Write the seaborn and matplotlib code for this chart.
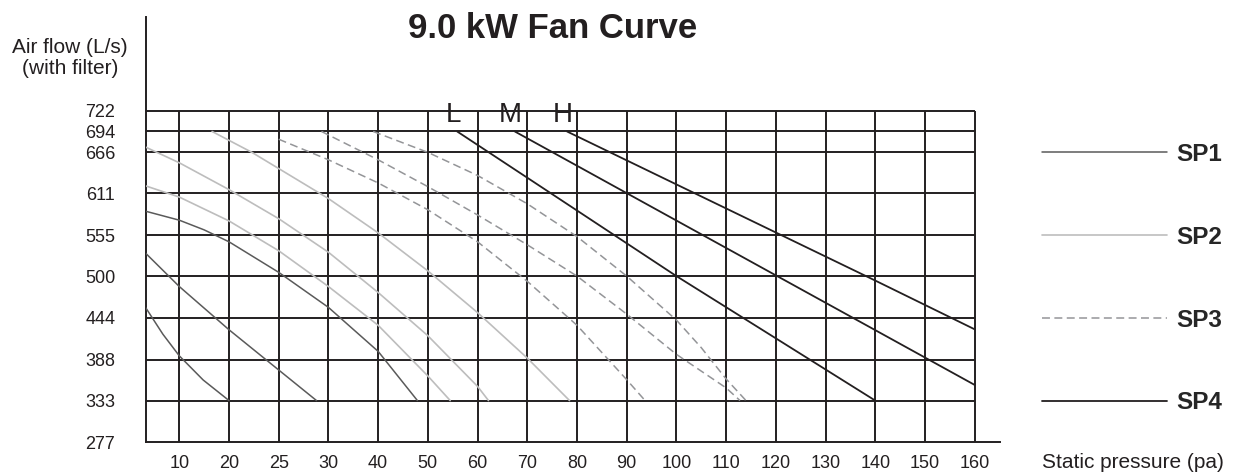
import numpy as np
import pandas as pd
import seaborn as sns
import matplotlib.pyplot as plt

# Axis ticks (the pressure axis is spaced one grid column per label, not per pa)
PRESSURE_TICKS = [10, 20, 25, 30, 40, 50, 60, 70, 80, 90, 100, 110, 120, 130, 140, 150, 160]
FLOW_TICKS = [277, 333, 388, 444, 500, 555, 611, 666, 694, 722]

# SP1 (dark grey)
SP1_L_PA = [3.24, 6.7, 10, 14.8, 20]
SP1_L_FLOW = [457.6, 422, 393, 360.6, 333]
SP1_M_PA = [3.24, 10, 20, 25, 28.8]
SP1_M_FLOW = [530.6, 486, 428, 374, 333]
SP1_H_PA = [3.24, 10, 15, 20, 25, 30, 40, 47.9]
SP1_H_FLOW = [587, 575, 562, 546, 505, 458, 399, 333]

# SP2 (light grey)
SP2_L_PA = [3.24, 10, 20, 25, 30, 40, 50, 54.5]
SP2_L_FLOW = [621, 606, 574, 534, 486, 434, 366, 333]
SP2_M_PA = [3.24, 10, 20, 25, 30, 40, 50, 60, 62.2]
SP2_M_FLOW = [673, 652, 616, 577, 532, 478, 420, 352, 333]
SP2_H_PA = [16.6, 22.3, 30, 40, 50, 60, 70, 78.5]
SP2_H_FLOW = [694, 666, 604, 558, 507, 451, 390, 333]

# SP3 (dashed)
SP3_L_PA = [25, 30, 40, 50, 60, 70, 80, 90, 93.7]
SP3_L_FLOW = [683.6, 656, 625, 589, 546, 493, 434, 361, 333]
SP3_M_PA = [29.3, 40, 50, 60, 70, 80, 90, 100, 110, 112.8]
SP3_M_FLOW = [694, 656, 620, 582, 542, 500, 449, 395, 350, 333]
SP3_H_PA = [39, 50, 60, 70, 80, 90, 100, 105, 110, 114]
SP3_H_FLOW = [694, 666, 635, 597, 553, 500, 441, 404, 362, 333]

# SP4 (black)
SP4_L_PA = [55.9, 100, 140]
SP4_L_FLOW = [694, 500, 333]
SP4_M_PA = [67.5, 120, 160]
SP4_M_FLOW = [694, 501, 354]
SP4_H_PA = [78, 100, 140, 160]
SP4_H_FLOW = [694, 623, 494, 428.6]

INK = "#231f20"
COLORS = {"SP1": "#5a5a5a", "SP2": "#bdbdbd", "SP3": "#949598", "SP4": INK}
WIDTHS = {"SP1": 1.1, "SP2": 1.2, "SP3": 1.1, "SP4": 1.3}
DASHES = {"SP1": "", "SP2": "", "SP3": (5.2, 2.9), "SP4": ""}

curves = {
    ("SP1", "L"): (SP1_L_PA, SP1_L_FLOW),
    ("SP1", "M"): (SP1_M_PA, SP1_M_FLOW),
    ("SP1", "H"): (SP1_H_PA, SP1_H_FLOW),
    ("SP2", "L"): (SP2_L_PA, SP2_L_FLOW),
    ("SP2", "M"): (SP2_M_PA, SP2_M_FLOW),
    ("SP2", "H"): (SP2_H_PA, SP2_H_FLOW),
    ("SP3", "L"): (SP3_L_PA, SP3_L_FLOW),
    ("SP3", "M"): (SP3_M_PA, SP3_M_FLOW),
    ("SP3", "H"): (SP3_H_PA, SP3_H_FLOW),
    ("SP4", "L"): (SP4_L_PA, SP4_L_FLOW),
    ("SP4", "M"): (SP4_M_PA, SP4_M_FLOW),
    ("SP4", "H"): (SP4_H_PA, SP4_H_FLOW),
}
rows = []
for (series, speed), (pa, flow) in curves.items():
    rows += [{"series": series, "speed": speed, "pa": p, "flow": f} for p, f in zip(pa, flow)]
df = pd.DataFrame(rows)

# column mapping for the uneven pressure labels
PA_KNOTS = [0] + PRESSURE_TICKS + [170]
COL_KNOTS = list(range(-1, len(PRESSURE_TICKS) + 1))


def to_col(x):
    return np.interp(x, PA_KNOTS, COL_KNOTS)


def from_col(c):
    return np.interp(c, COL_KNOTS, PA_KNOTS)


sns.set_style("white")
plt.rcParams["font.family"] = ["Liberation Sans", "DejaVu Sans"]

W, H = 1238, 472
fig = plt.figure(figsize=(W / 100, H / 100), dpi=100)
ax = fig.add_axes([145.7 / W, 29.7 / H, (1000 - 145.7) / W, (442.3 - 16.7) / H])

sns.lineplot(data=df, x="pa", y="flow", hue="series", size="series", style="series",
             units="speed", estimator=None, palette=COLORS, sizes=WIDTHS,
             dashes=DASHES, ax=ax, zorder=3)

ax.set_xscale("function", functions=(to_col, from_col))
x_left, x_right = 3.24, 165.1
ax.set_xlim(x_left, x_right)
ax.set_ylim(FLOW_TICKS[0], 848)

# grid box
ax.vlines(PRESSURE_TICKS, FLOW_TICKS[0], FLOW_TICKS[-1], color=INK, lw=1.4, zorder=1)
ax.hlines(FLOW_TICKS[1:], x_left, PRESSURE_TICKS[-1], color=INK, lw=1.4, zorder=1)

for side in ["top", "right"]:
    ax.spines[side].set_visible(False)
for side in ["left", "bottom"]:
    ax.spines[side].set_color(INK)
    ax.spines[side].set_linewidth(1.4)

ax.set_xticks(PRESSURE_TICKS)
ax.set_xticklabels([str(v) for v in PRESSURE_TICKS])
ax.set_yticks(FLOW_TICKS)
ax.set_yticklabels([str(v) for v in FLOW_TICKS])
ax.tick_params(axis="x", length=0, pad=9, labelsize=13, labelcolor=INK)
ax.tick_params(axis="y", length=15, width=1.4, color=INK, pad=7, labelsize=13,
               labelcolor=INK, direction="out")
ax.set_xlabel("")
ax.set_ylabel("")

# speed labels above the SP4 lines
for start, name in zip([SP4_L_PA[0], SP4_M_PA[0], SP4_H_PA[0]], "LMH"):
    ax.annotate(name, xy=(start, FLOW_TICKS[-1]), xytext=(-3, -3),
                textcoords="offset points", ha="center", va="center",
                fontsize=20, color=INK,
                family=["Liberation Sans Narrow", "Liberation Sans"])

old = ax.get_legend()
handles = old.legend_handles
labels = [t.get_text() for t in old.get_texts()]
ax.legend(handles, labels, loc="upper left", bbox_to_anchor=(1041.7 / W, 1 - 143 / H),
          bbox_transform=fig.transFigure, frameon=False, borderpad=0, borderaxespad=0,
          handlelength=5.14, handletextpad=0.41, labelspacing=2.46,
          prop={"weight": "bold", "size": 17.5})

fig.text(552.5 / W, 1 - 28 / H, "9.0 kW Fan Curve", ha="center", va="center",
         fontsize=25, fontweight="bold", color=INK)
fig.text(70 / W, 1 - 58 / H, "Air flow (L/s)\n(with filter)", ha="center", va="center",
         fontsize=15, color=INK, linespacing=1.15)
fig.text(1042 / W, 1 - 462 / H, "Static pressure (pa)", ha="left", va="center",
         fontsize=15, color=INK)

fig.savefig("out.png", dpi=100)
